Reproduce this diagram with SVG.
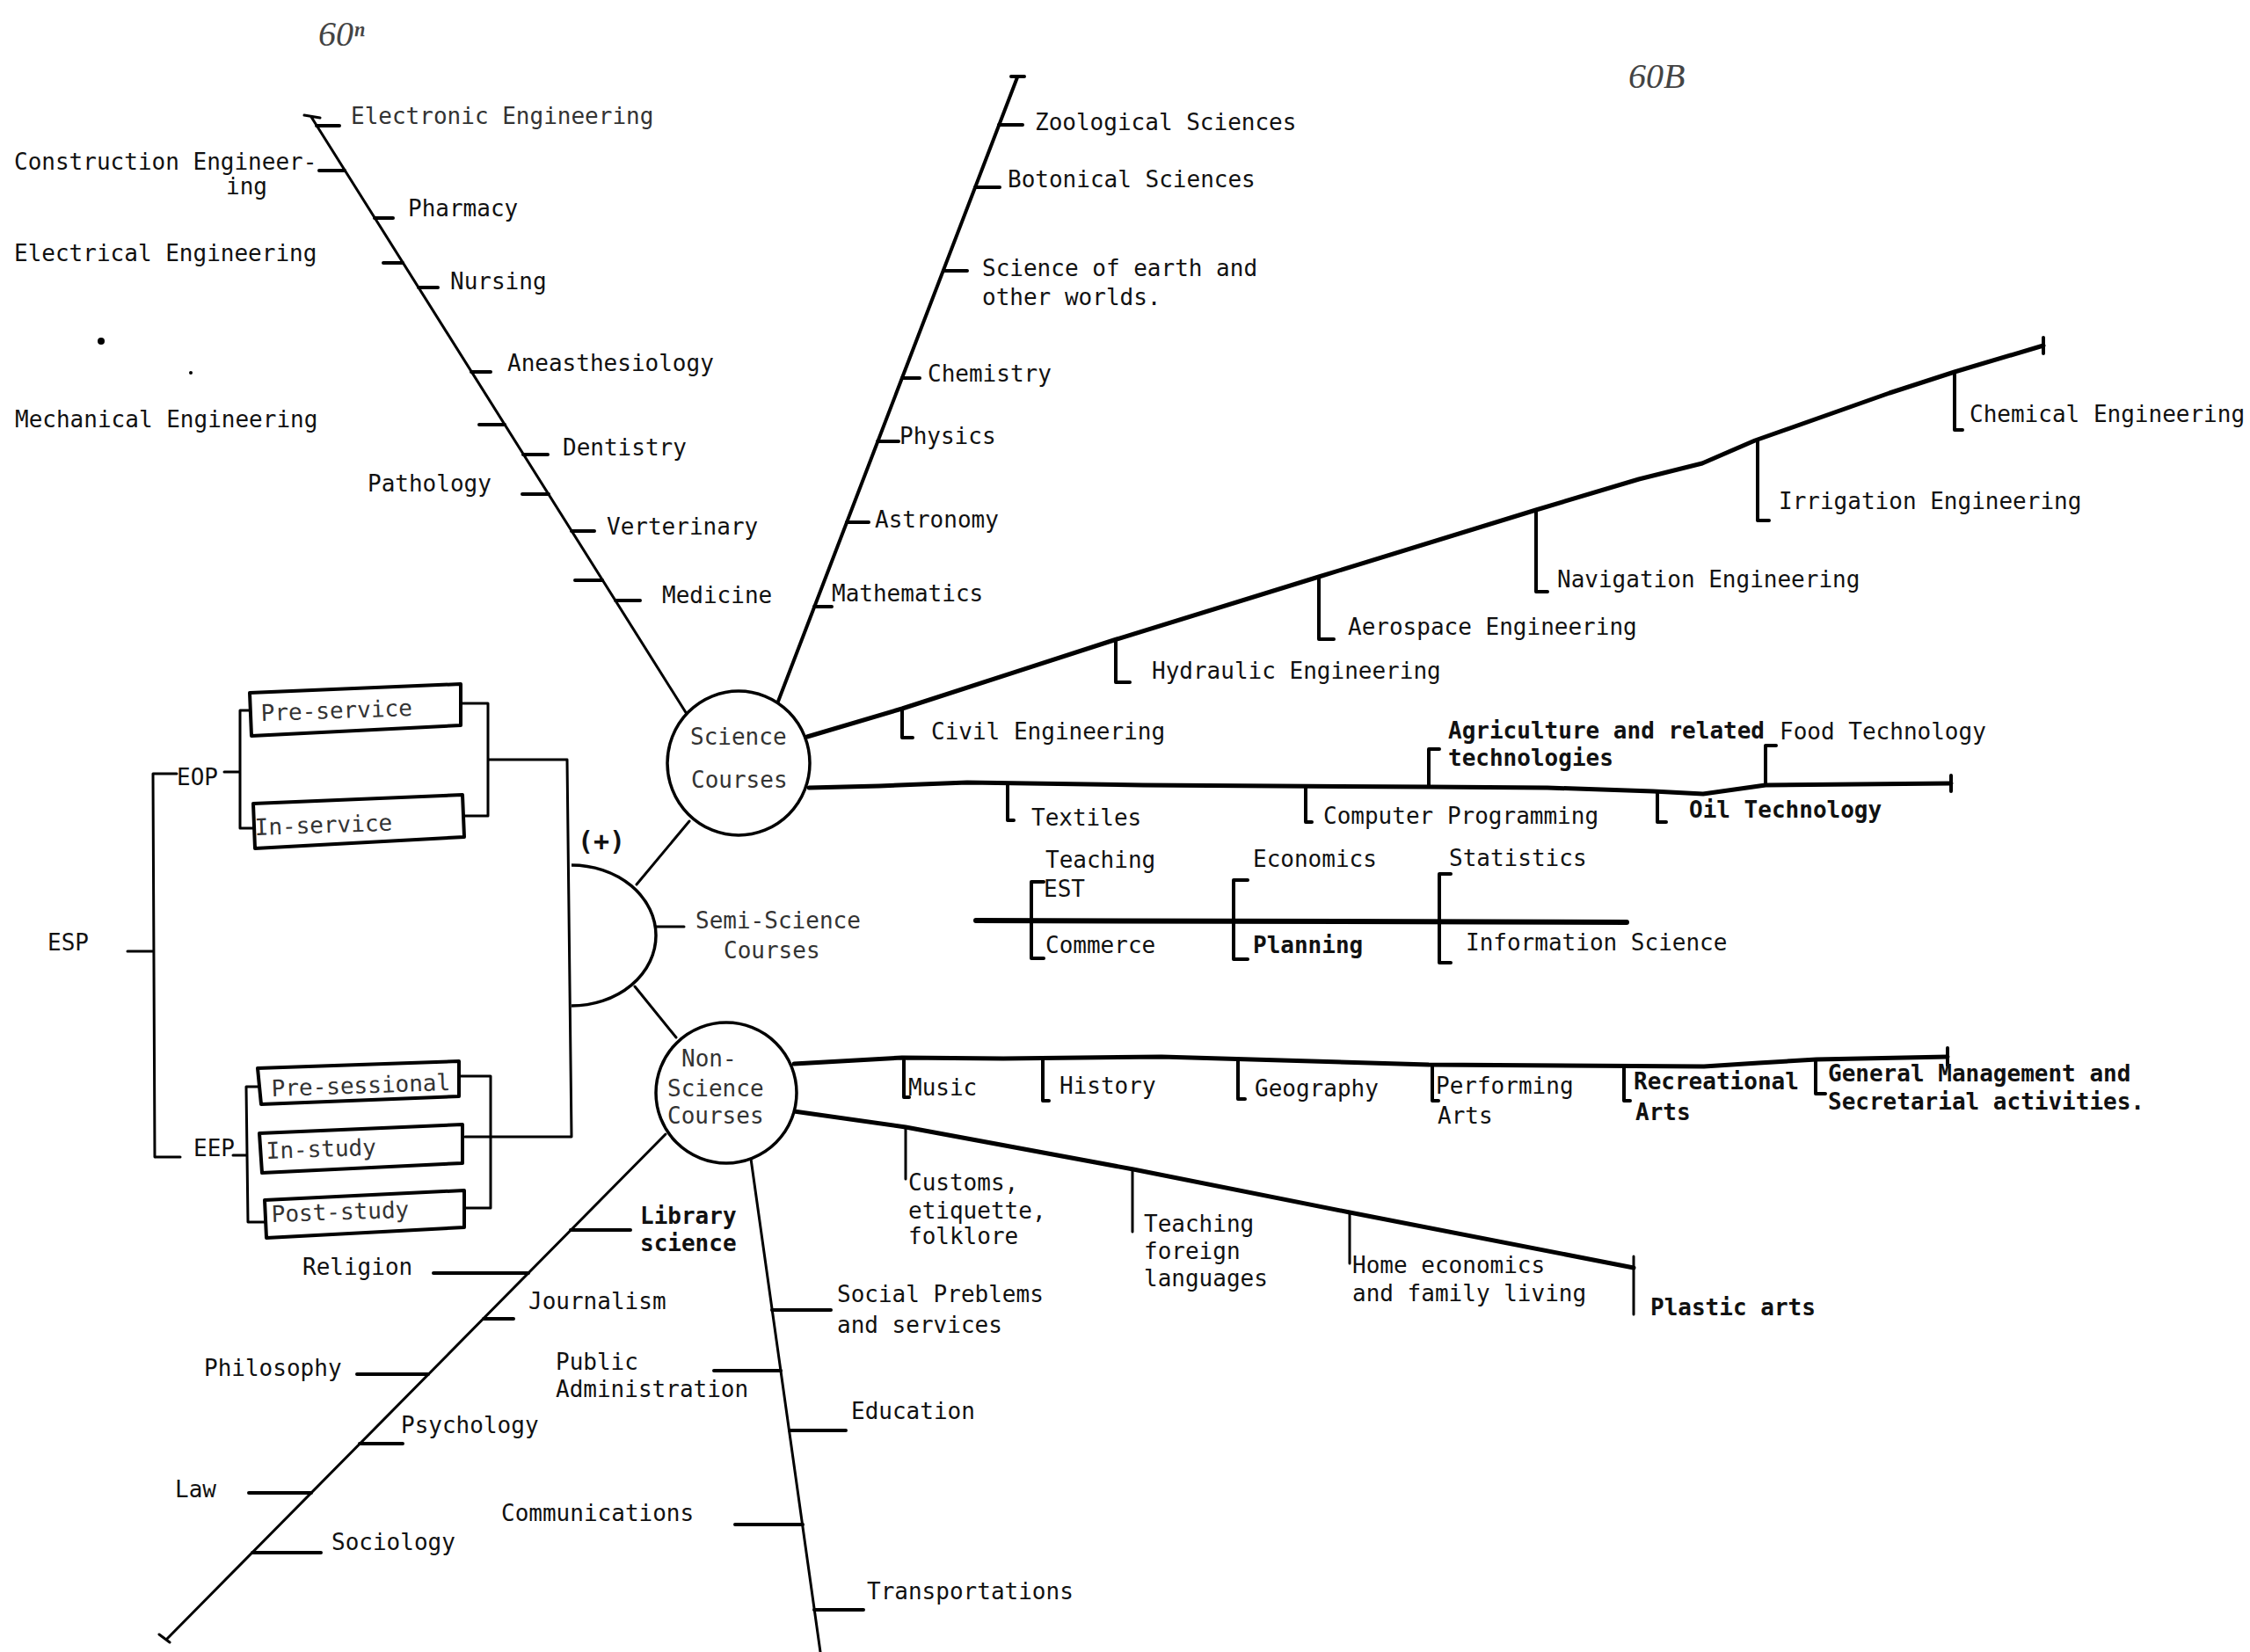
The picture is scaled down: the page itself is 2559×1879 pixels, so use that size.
<svg xmlns="http://www.w3.org/2000/svg" width="2559" height="1879" viewBox="0 0 2559 1879">
<style>
text{font-family:"DejaVu Sans Mono","Liberation Mono",monospace;font-size:26px;fill:#111}
.lt{fill:#333}
.b{font-weight:bold}
.hw{font-family:"Liberation Serif",serif;font-style:italic;font-size:40px;fill:#444}
.l{fill:none;stroke:#000;stroke-width:3;stroke-linecap:round;stroke-linejoin:round}
.m{fill:none;stroke:#000;stroke-width:4;stroke-linecap:round;stroke-linejoin:round}
.t{fill:none;stroke:#000;stroke-width:5;stroke-linecap:round;stroke-linejoin:round}
.box{fill:#fff;stroke:#000;stroke-width:4;stroke-linejoin:round}
</style>
<rect width="2559" height="1879" fill="#fff"/>
<text class="hw" x="362" y="52">60ⁿ</text>
<text class="hw" x="1852" y="100">60B</text>
<circle cx="115" cy="388" r="4" fill="#000"/>
<circle cx="217" cy="424" r="2" fill="#000"/>

<g id="connectors">
<!-- top-left science branch -->
<path class="l" d="M354 133 L781 812 M346 131 L364 134"/>
<path class="m" d="M360 143H386 M363 194H392 M426 248H447 M436 299H458 M476 327H498 M536 423H558 M545 483H574 M595 517H623 M594 562H624 M650 604H676 M654 660H685 M700 683H728"/>
<!-- science up branch -->
<path class="m" d="M1157 88 L883 803 M1150 87H1165"/>
<path class="m" d="M1136 142H1163 M1109 213H1137 M1073 308H1100 M1026 430H1046 M998 502H1022 M963 594H988 M926 690H946"/>
<!-- engineering branch -->
<polyline class="t" points="918,838 1026,806 1267,728 1500,656 1747,580 1864,545 1936,527 1996,501 2149,447 2223,423 2324,393"/>
<path class="m" d="M2324 384V402 M1026 806V839H1038 M1269 728V776H1285 M1500 656V727H1517 M1747 580V673H1760 M1999 500V592H2012 M2223 423V489H2232"/>
<!-- science horizontal branch -->
<polyline class="t" points="920,896 1000,894 1100,890 1300,893 1625,895 1760,896 1880,900 1937,903 2008,893 2219,891"/>
<path class="m" d="M2219 882V900 M1146 891V933H1153 M1485 894V935H1492 M1625 895V852H1637 M1885 900V935H1895 M2008 893V848H2020"/>
<!-- semi-science line -->
<path d="M1110 1047L1850 1049" fill="none" stroke="#000" stroke-width="6" stroke-linecap="round"/>
<path class="m" d="M1187 1003H1173V1090H1187 M1419 1001H1403V1091H1419 M1650 994H1637V1095H1650"/>
<!-- semicircle links -->
<path class="l" d="M724 1006L784 934 M722 1122L769 1180 M746 1054H778"/>
<!-- ESP tree -->
<path class="l" d="M145 1082H174 M174 880L176 1316 M174 880H201 M255 878H273 M284 808H273V942H290 M524 800H555V928H528 M555 864H645L650 1293H529"/>
<path class="l" d="M177 1316H205 M265 1314H280 M293 1236H280L282 1390H301 M522 1224H558V1374H528"/>
<!-- non-science horizontal -->
<polyline class="t" points="903,1210 1026,1203 1141,1204 1321,1202 1625,1211 1938,1213 2000,1209 2066,1205 2215,1202"/>
<path class="m" d="M2215 1192V1212 M1028 1206V1248H1034 M1186 1204V1252H1193 M1408 1206V1250H1416 M1629 1211V1252H1636 M1847 1213V1252H1854 M2065 1205V1244H2076"/>
<!-- non-science diagonal -->
<polyline class="t" points="903,1264 1030,1282 1289,1330 1535,1379 1858,1442"/>
<path class="l" d="M1858 1429V1495 M1030 1282V1341 M1288 1330V1401 M1535 1379V1437"/>
<!-- lower-left branch -->
<path class="l" d="M757 1290L189 1865 M181 1859L193 1868"/>
<path class="m" d="M649 1399H717 M493 1448H601 M550 1500H584 M406 1563H487 M409 1642H458 M283 1698H354 M287 1766H365"/>
<!-- lower branch -->
<path class="l" d="M854 1318L933 1879"/>
<path class="m" d="M878 1490H945 M812 1559H888 M898 1627H962 M836 1734H913 M926 1831H982"/>
</g>

<g id="science-courses">
<ellipse cx="840" cy="868" rx="81" ry="82" fill="#fff" stroke="#000" stroke-width="3.5"/>
<text class="lt" x="785" y="847">Science</text>
<text class="lt" x="786" y="896">Courses</text>
</g>
<g id="semi-science-courses">
<path d="M650 984A96 80 0 0 1 650 1144" fill="#fff" stroke="#000" stroke-width="3.5"/>
<text class="b" x="657" y="967" style="font-size:30px">(+)</text>
<text class="lt" x="791" y="1056">Semi-Science</text>
<text class="lt" x="823" y="1090">Courses</text>
</g>
<g id="non-science-courses">
<circle cx="826" cy="1243" r="80" fill="#fff" stroke="#000" stroke-width="3.5"/>
<text class="lt" x="775" y="1213">Non-</text>
<text class="lt" x="759" y="1247">Science</text>
<text class="lt" x="759" y="1278">Courses</text>
</g>

<g id="esp">
<text x="54" y="1081">ESP</text>
<text x="201" y="893">EOP</text>
<text x="220" y="1315">EEP</text>
</g>
<g id="pre-service"><polygon class="box" points="284,788 524,778 524,825 286,837"/><text class="lt" x="297" y="820" transform="rotate(-2 297 820)">Pre-service</text></g>
<g id="in-service"><polygon class="box" points="288,914 526,904 528,952 290,965"/><text class="lt" x="290" y="950" transform="rotate(-2 290 950)">In-service</text></g>
<g id="pre-sessional"><polygon class="box" points="293,1215 522,1207 522,1247 297,1256"/><text class="lt" x="309" y="1247" transform="rotate(-2 309 1247)">Pre-sessional</text></g>
<g id="in-study"><polygon class="box" points="295,1289 526,1279 526,1323 298,1334"/><text class="lt" x="303" y="1318" transform="rotate(-2 303 1318)">In-study</text></g>
<g id="post-study"><polygon class="box" points="301,1365 528,1354 528,1396 303,1408"/><text class="lt" x="309" y="1390" transform="rotate(-2 309 1390)">Post-study</text></g>

<g id="science-left-labels">
<text class="lt" x="399" y="141">Electronic Engineering</text>
<text x="16" y="193">Construction Engineer-</text>
<text x="257" y="221">ing</text>
<text x="464" y="246">Pharmacy</text>
<text x="16" y="297">Electrical Engineering</text>
<text x="512" y="329">Nursing</text>
<text x="577" y="422">Aneasthesiology</text>
<text x="17" y="486">Mechanical Engineering</text>
<text x="640" y="518">Dentistry</text>
<text x="418" y="559">Pathology</text>
<text x="690" y="608">Verterinary</text>
<text x="753" y="686">Medicine</text>
</g>
<g id="science-up-labels">
<text x="1177" y="148">Zoological Sciences</text>
<text x="1146" y="213">Botonical Sciences</text>
<text x="1117" y="314">Science of earth and</text>
<text x="1117" y="347">other worlds.</text>
<text x="1055" y="434">Chemistry</text>
<text x="1023" y="505">Physics</text>
<text x="995" y="600">Astronomy</text>
<text x="946" y="684">Mathematics</text>
</g>
<g id="engineering-labels">
<text x="1059" y="841">Civil Engineering</text>
<text x="1310" y="772">Hydraulic Engineering</text>
<text x="1533" y="722">Aerospace Engineering</text>
<text x="1771" y="668">Navigation Engineering</text>
<text x="2023" y="579">Irrigation Engineering</text>
<text x="2240" y="480">Chemical Engineering</text>
</g>
<g id="technology-labels">
<text x="1173" y="939">Textiles</text>
<text x="1505" y="937">Computer Programming</text>
<text class="b" x="1647" y="840">Agriculture and related</text>
<text class="b" x="1647" y="871">technologies</text>
<text class="b" x="1921" y="930">Oil Technology</text>
<text x="2024" y="841">Food Technology</text>
</g>
<g id="semi-science-labels">
<text x="1189" y="987">Teaching</text>
<text x="1187" y="1020">EST</text>
<text x="1189" y="1084">Commerce</text>
<text x="1425" y="986">Economics</text>
<text class="b" x="1425" y="1084">Planning</text>
<text x="1648" y="985">Statistics</text>
<text x="1667" y="1081">Information Science</text>
</g>
<g id="non-science-labels">
<text x="1033" y="1246">Music</text>
<text x="1205" y="1244">History</text>
<text x="1427" y="1247">Geography</text>
<text x="1633" y="1244">Performing</text>
<text x="1635" y="1278">Arts</text>
<text class="b" x="1858" y="1239">Recreational</text>
<text class="b" x="1860" y="1274">Arts</text>
<text class="b" x="2079" y="1230">General Management and</text>
<text class="b" x="2079" y="1262">Secretarial activities.</text>
<text x="1033" y="1354">Customs,</text>
<text x="1033" y="1386">etiquette,</text>
<text x="1033" y="1415">folklore</text>
<text x="1301" y="1401">Teaching</text>
<text x="1301" y="1432">foreign</text>
<text x="1301" y="1463">languages</text>
<text x="1538" y="1448">Home economics</text>
<text x="1538" y="1480">and family living</text>
<text class="b" x="1877" y="1496">Plastic arts</text>
</g>
<g id="lower-labels">
<text class="b" x="728" y="1392">Library</text>
<text class="b" x="728" y="1423">science</text>
<text x="344" y="1450">Religion</text>
<text x="601" y="1489">Journalism</text>
<text x="232" y="1565">Philosophy</text>
<text x="456" y="1630">Psychology</text>
<text x="199" y="1703">Law</text>
<text x="377" y="1763">Sociology</text>
<text x="952" y="1481">Social Preblems</text>
<text x="952" y="1516">and services</text>
<text x="632" y="1558">Public</text>
<text x="632" y="1589">Administration</text>
<text x="968" y="1614">Education</text>
<text x="570" y="1730">Communications</text>
<text x="986" y="1819">Transportations</text>
</g>
</svg>
